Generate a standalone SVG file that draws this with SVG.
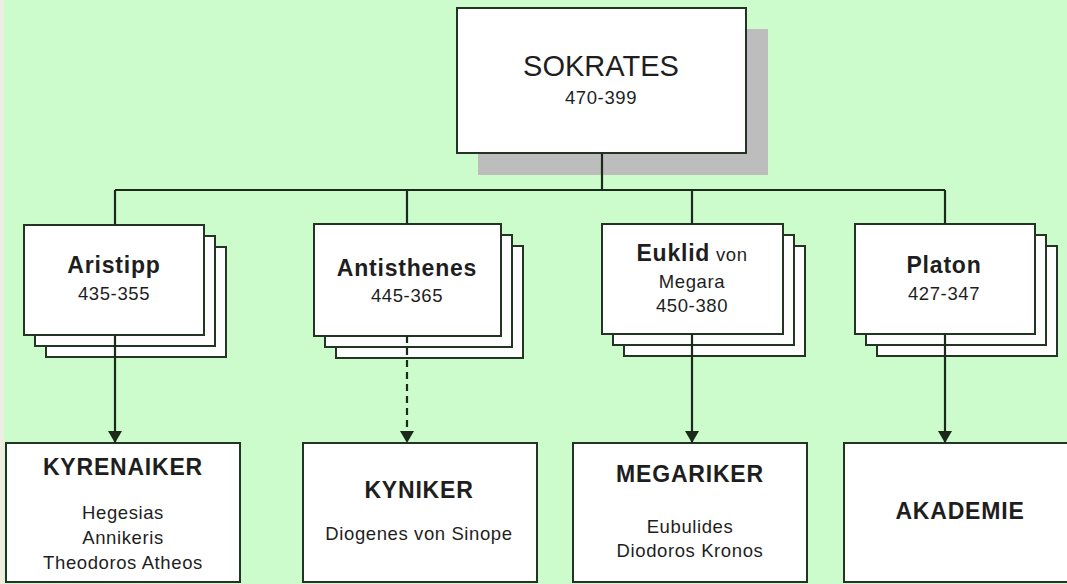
<svg xmlns="http://www.w3.org/2000/svg" width="1067" height="584" viewBox="0 0 1067 584">
<defs>
<style>
.bg{fill:#ccfccc}
.box{fill:#ffffff;stroke:#243424;stroke-width:2}
.card{fill:#fdfdfd;stroke:#243424;stroke-width:2}
.shadow{fill:#bdbdbd}
.ln{fill:none;stroke:#1c2a1c;stroke-width:2.2}
.dash{stroke-dasharray:7 5}
text{font-family:"Liberation Sans",Arial,sans-serif;fill:#1e1e1e;text-anchor:middle}
.big{font-size:29px}
.b{font-size:23px;font-weight:bold;letter-spacing:0.8px}
.n{font-size:18.5px;letter-spacing:0.6px}
</style>
<marker id="arr" markerUnits="userSpaceOnUse" markerWidth="16" markerHeight="14" refX="12" refY="7" orient="auto">
<path d="M0,0 L12,7 L0,14 Z" fill="#1c2a1c"/>
</marker>
</defs>
<rect class="bg" x="0" y="0" width="1067" height="584"/>
<rect x="0" y="0" width="4" height="584" fill="#efece0"/>

<g id="sokrates">
<rect class="shadow" x="478" y="29" width="290" height="146"/>
<rect class="box" x="457" y="8" width="289" height="145"/>
<text class="big" x="601" y="76">SOKRATES</text>
<text class="n" x="601" y="104">470-399</text>
</g>

<g id="aristipp">
<rect class="card" x="46" y="247" width="180" height="110"/>
<rect class="card" x="35" y="236" width="180" height="110"/>
<rect class="box" x="24" y="225" width="180" height="110"/>
<text class="b" x="114" y="273">Aristipp</text>
<text class="n" x="114" y="300">435-355</text>
</g>

<g id="antisthenes">
<rect class="card" x="336" y="246" width="187" height="112"/>
<rect class="card" x="325" y="235" width="187" height="112"/>
<rect class="box" x="314" y="224" width="187" height="112"/>
<text class="b" x="407" y="276">Antisthenes</text>
<text class="n" x="407" y="302">445-365</text>
</g>

<g id="euklid">
<rect class="card" x="624" y="246" width="181" height="110"/>
<rect class="card" x="613" y="235" width="181" height="110"/>
<rect class="box" x="602" y="224" width="181" height="110"/>
<text x="692" y="261"><tspan class="b">Euklid</tspan><tspan class="n"> von</tspan></text>
<text class="n" x="692" y="288">Megara</text>
<text class="n" x="692" y="312">450-380</text>
</g>

<g id="platon">
<rect class="card" x="877" y="246" width="180" height="110"/>
<rect class="card" x="866" y="235" width="180" height="110"/>
<rect class="box" x="855" y="224" width="180" height="110"/>
<text class="b" x="944" y="273">Platon</text>
<text class="n" x="944" y="300">427-347</text>
</g>

<g id="kyrenaiker">
<rect class="box" x="6" y="443" width="234" height="139"/>
<text class="b" x="123" y="475">KYRENAIKER</text>
<text class="n" x="123" y="519">Hegesias</text>
<text class="n" x="123" y="544">Annikeris</text>
<text class="n" x="123" y="569">Theodoros Atheos</text>
</g>

<g id="kyniker">
<rect class="box" x="303" y="443" width="234" height="139"/>
<text class="b" x="419" y="498">KYNIKER</text>
<text class="n" x="419" y="540">Diogenes von Sinope</text>
</g>

<g id="megariker">
<rect class="box" x="573" y="443" width="234" height="139"/>
<text class="b" x="690" y="482">MEGARIKER</text>
<text class="n" x="690" y="533">Eubulides</text>
<text class="n" x="690" y="557">Diodoros Kronos</text>
</g>

<g id="akademie">
<rect class="box" x="844" y="443" width="240" height="139"/>
<text class="b" x="960" y="519">AKADEMIE</text>
</g>

<g id="connectors">
<path class="ln" d="M602,153 V190"/>
<path class="ln" d="M115,190 H945"/>
<path class="ln" d="M115,190 V225"/>
<path class="ln" d="M407,190 V224"/>
<path class="ln" d="M692,190 V224"/>
<path class="ln" d="M945,190 V224"/>
<path class="ln" d="M115,335 V443" marker-end="url(#arr)"/>
<path class="ln dash" d="M407,336 V443" marker-end="url(#arr)"/>
<path class="ln" d="M692,334 V443" marker-end="url(#arr)"/>
<path class="ln" d="M945,334 V443" marker-end="url(#arr)"/>
</g>
</svg>
